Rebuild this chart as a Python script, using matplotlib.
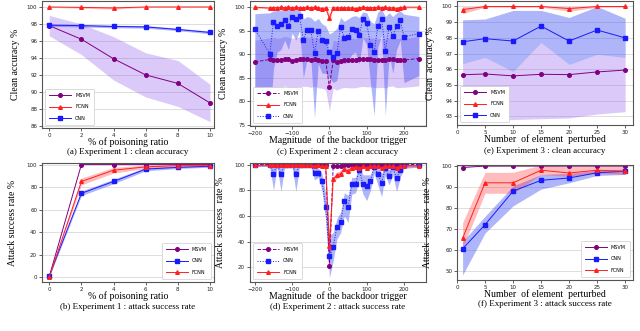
import matplotlib
matplotlib.use('Agg')
import matplotlib.pyplot as plt

# ---- data -------------------------------------------------------------
# Experiment 1 : % of poisoning ratio
ratio = [0, 2, 4, 6, 8, 10]
e1_msvm_acc = [97.8, 96.2, 93.9, 92.0, 91.0, 88.7]
e1_msvm_acc_hi = [99.0, 98.0, 96.5, 94.6, 93.7, 90.9]
e1_msvm_acc_lo = [96.6, 94.4, 91.4, 89.4, 88.3, 86.5]
e1_fcnn_acc = [100.0, 99.95, 99.88, 100.0, 100.0, 100.0]
e1_fcnn_acc_hi = [100.0, 100.0, 100.0, 100.0, 100.0, 100.0]
e1_fcnn_acc_lo = [99.95, 99.85, 99.75, 99.95, 99.95, 99.95]
e1_cnn_acc = [97.85, 97.8, 97.7, 97.65, 97.35, 97.0]
e1_cnn_acc_hi = [98.0, 97.95, 97.85, 97.8, 97.5, 97.15]
e1_cnn_acc_lo = [97.7, 97.65, 97.55, 97.5, 97.2, 96.85]

e1_msvm_asr = [0.5, 100, 100, 100, 100, 100]
e1_cnn_asr = [1.0, 74.5, 85.0, 96.0, 97.5, 98.5]
e1_cnn_asr_hi = [1.5, 76.5, 87.0, 97.5, 98.5, 99.3]
e1_cnn_asr_lo = [0.5, 72.5, 83.0, 94.5, 96.5, 97.7]
e1_fcnn_asr = [0.0, 85.0, 95.0, 98.0, 99.0, 99.0]
e1_fcnn_asr_hi = [0.5, 88.0, 97.5, 99.5, 100.0, 100.0]
e1_fcnn_asr_lo = [0.0, 82.0, 92.5, 96.5, 98.0, 98.0]

# Experiment 2 : magnitude of the backdoor trigger
magnitude = [-200, -160, -150, -140, -130, -120, -110, -100, -90, -80,
             -70, -60, -50, -40, -30, -20, -10, 0, 10, 20,
             30, 40, 50, 60, 70, 80, 90, 100, 110, 120,
             130, 140, 150, 160, 170, 180, 190, 200, 240]

e2_cnn_acc = [95.4, 90.1, 96.9, 96.1, 96.4, 97.3, 96.1, 98.0, 97.4, 98.1,
              93.1, 95.1, 95.1, 90.2, 94.9, 93.0, 92.8, 90.4, 89.4, 90.2,
              95.8, 93.5, 93.7, 95.4, 95.2, 94.1, 97.5, 96.6, 92.0, 90.4,
              96.1, 97.5, 90.8, 95.8, 93.9, 96.0, 97.2, 93.7, 94.4]
e2_cnn_acc_hi = [98.6, 98.8, 99.2, 99.3, 99.4, 99.5, 99.6, 99.7, 99.6, 99.5,
                 97.5, 98.0, 97.8, 97.0, 97.6, 96.5, 96.0, 94.3, 94.8, 95.5,
                 97.8, 97.0, 97.5, 98.0, 98.2, 97.8, 99.0, 98.8, 97.0, 96.5,
                 99.0, 99.5, 98.0, 98.8, 98.0, 98.8, 99.2, 98.5, 98.0]
e2_cnn_acc_lo = [82.0, 76.0, 87.0, 90.5, 91.0, 93.0, 91.0, 94.5, 93.0, 95.0,
                 85.0, 89.0, 89.5, 76.5, 88.0, 86.0, 86.0, 85.0, 84.0, 84.5,
                 89.5, 88.0, 88.5, 90.0, 90.5, 88.0, 93.5, 92.0, 84.0, 77.0,
                 91.5, 94.0, 77.0, 90.0, 86.0, 91.0, 93.0, 84.0, 85.5]
e2_msvm_acc = [88.4, 88.9, 88.8, 88.7, 88.7, 89.1, 88.9, 88.6, 88.8, 89.0,
               89.0, 89.0, 88.8, 89.0, 88.7, 88.6, 88.6, 83.0, 88.7, 88.3,
               88.6, 88.8, 88.7, 88.7, 88.7, 88.9, 89.0, 88.9, 88.9, 88.8,
               88.7, 88.8, 88.7, 89.0, 89.1, 88.7, 88.8, 88.8, 89.1]
e2_msvm_acc_hi = [93.0, 93.5, 93.6, 93.4, 93.5, 93.8, 93.6, 93.4, 93.5, 93.7,
                  93.6, 93.7, 93.5, 93.6, 93.4, 93.3, 93.0, 89.0, 93.0, 92.8,
                  93.2, 93.4, 93.3, 93.4, 93.3, 93.5, 93.6, 93.5, 93.5, 93.4,
                  93.3, 93.4, 93.3, 93.6, 93.7, 93.3, 93.4, 93.4, 93.7]
e2_msvm_acc_lo = [82.8, 83.2, 83.0, 82.9, 82.9, 83.3, 83.1, 82.8, 83.0, 83.2,
                  83.2, 83.2, 83.0, 83.2, 82.9, 82.8, 82.5, 78.0, 82.8, 82.4,
                  82.8, 83.0, 82.9, 82.9, 82.9, 83.1, 83.2, 83.1, 83.1, 83.0,
                  82.9, 83.0, 82.9, 83.2, 83.3, 82.9, 83.0, 83.0, 83.3]
e2_fcnn_acc = [100.0, 99.8, 99.9, 99.9, 100.0, 99.9, 100.0, 99.9, 100.0, 99.9,
               99.9, 100.0, 99.9, 100.0, 99.9, 99.7, 99.8, 97.7, 99.9, 99.8,
               99.9, 99.8, 99.9, 99.8, 99.7, 99.8, 100.0, 99.9, 99.9, 99.9,
               100.0, 99.9, 100.0, 99.8, 99.9, 99.7, 99.9, 100.0, 100.0]
e2_fcnn_acc_hi = [100.0] * 17 + [98.6] + [100.0] * 21
e2_fcnn_acc_lo = [99.8, 99.6, 99.7, 99.7, 99.8, 99.7, 99.8, 99.7, 99.8, 99.7,
                  99.7, 99.8, 99.7, 99.8, 99.7, 99.4, 99.5, 96.8, 99.7, 99.6,
                  99.7, 99.6, 99.7, 99.6, 99.5, 99.6, 99.8, 99.7, 99.7, 99.7,
                  99.8, 99.7, 99.8, 99.6, 99.7, 99.5, 99.7, 99.8, 99.8]

e2_msvm_asr = [100.0, 100.0, 100.0, 100.0, 100.0, 100.0, 100.0, 100.0, 100.0, 100.0,
               100.0, 100.0, 100.0, 100.0, 100.0, 100.0, 100.0, 21.0, 98.8, 98.8,
               98.8, 99.8, 99.8, 99.8, 100.0, 100.0, 100.0, 100.0, 100.0, 100.0,
               100.0, 100.0, 100.0, 100.0, 100.0, 100.0, 100.0, 100.0, 100.0]
e2_cnn_asr = [100.0, 100.0, 93.0, 100.0, 92.5, 100.0, 100.0, 100.0, 92.5, 100.0,
              100.0, 100.0, 100.0, 93.5, 93.5, 87.5, 67.0, 28.5, 35.5, 51.5,
              55.5, 71.5, 67.0, 84.5, 84.5, 96.0, 84.5, 83.5, 87.0, 98.0,
              92.5, 86.0, 97.5, 91.0, 98.0, 89.5, 96.0, 99.5, 99.5]
e2_cnn_asr_hi = [100.0, 100.0, 100.0, 100.0, 100.0, 100.0, 100.0, 100.0, 100.0, 100.0,
                 100.0, 100.0, 100.0, 97.5, 97.5, 93.0, 77.0, 45.0, 47.0, 58.0,
                 63.0, 78.0, 76.0, 90.0, 90.0, 99.0, 92.0, 92.0, 92.0, 100.0,
                 98.0, 93.0, 100.0, 96.0, 100.0, 95.0, 99.0, 100.0, 100.0]
e2_cnn_asr_lo = [98.5, 98.5, 80.0, 98.5, 79.0, 98.5, 98.5, 98.5, 79.0, 98.5,
                 98.5, 98.5, 98.5, 88.0, 90.0, 80.0, 57.0, 12.0, 25.0, 42.0,
                 47.0, 60.0, 55.0, 77.0, 78.0, 88.0, 77.0, 72.0, 80.0, 93.0,
                 84.0, 75.0, 92.0, 84.0, 92.0, 79.0, 90.0, 97.0, 98.0]
e2_fcnn_asr = [99.5, 99.5, 99.8, 99.5, 99.8, 99.5, 99.8, 99.5, 99.8, 99.5,
               99.8, 99.5, 99.8, 99.0, 99.5, 98.5, 99.0, 37.0, 88.5, 91.5,
               93.0, 96.5, 95.0, 97.5, 98.0, 97.0, 98.5, 97.5, 98.5, 99.0,
               98.5, 97.5, 99.0, 98.5, 99.0, 97.5, 99.0, 99.0, 99.0]
e2_fcnn_asr_hi = [100.0, 100.0, 100.0, 100.0, 100.0, 100.0, 100.0, 100.0, 100.0, 100.0,
                  100.0, 100.0, 100.0, 100.0, 100.0, 99.8, 100.0, 44.0, 91.0, 94.0,
                  95.5, 98.5, 97.5, 99.5, 99.8, 99.0, 100.0, 99.5, 100.0, 100.0,
                  100.0, 99.5, 100.0, 100.0, 100.0, 99.5, 100.0, 100.0, 100.0]
e2_fcnn_asr_lo = [98.5, 98.5, 99.0, 98.5, 99.0, 98.5, 99.0, 98.5, 99.0, 98.5,
                  99.0, 98.5, 99.0, 97.5, 98.5, 97.0, 97.5, 30.0, 86.0, 89.0,
                  90.5, 94.5, 92.5, 95.5, 96.0, 95.0, 97.0, 95.5, 97.0, 98.0,
                  97.0, 95.5, 98.0, 97.0, 98.0, 95.5, 98.0, 98.0, 98.0]

# Experiment 3 : number of element perturbed
n_elem = [1, 5, 10, 15, 20, 25, 30]
e3_msvm_acc = [95.65, 95.7, 95.58, 95.68, 95.66, 95.83, 95.95]
e3_msvm_acc_hi = [96.35, 96.75, 95.85, 97.7, 96.3, 96.95, 96.75]
e3_msvm_acc_lo = [92.6, 92.75, 92.8, 92.85, 92.9, 93.15, 93.3]
e3_fcnn_acc = [99.8, 100.0, 100.0, 100.0, 99.87, 100.0, 100.0]
e3_fcnn_acc_hi = [100.0, 100.0, 100.0, 100.0, 100.0, 100.0, 100.0]
e3_fcnn_acc_lo = [99.55, 99.95, 99.95, 99.95, 99.7, 99.95, 99.95]
e3_cnn_acc = [97.75, 97.95, 97.8, 98.75, 97.8, 98.5, 98.0]
e3_cnn_acc_hi = [99.15, 99.2, 99.75, 99.75, 99.3, 100.0, 99.25]
e3_cnn_acc_lo = [96.35, 96.75, 95.85, 97.7, 96.3, 96.95, 96.75]

e3_msvm_asr = [99.3, 100.0, 100.0, 100.0, 100.0, 100.0, 100.0]
e3_cnn_asr = [60.5, 72.0, 88.0, 93.2, 94.3, 96.8, 97.5]
e3_cnn_asr_hi = [64.0, 76.0, 90.5, 96.0, 96.5, 98.0, 98.5]
e3_cnn_asr_lo = [48.0, 68.0, 81.0, 89.0, 92.0, 95.5, 96.0]
e3_fcnn_asr = [65.5, 92.0, 92.0, 98.0, 96.7, 98.0, 97.5]
e3_fcnn_asr_hi = [73.0, 97.0, 97.0, 100.5, 100.0, 100.0, 100.0]
e3_fcnn_asr_lo = [61.0, 87.0, 87.0, 96.0, 95.0, 96.5, 96.0]

captions = ["(a) Experiment 1 : clean accuracy", "(b) Experiment 1 : attack success rate",
            "(c) Experiment 2 : clean accuracy", "(d) Experiment 2 : attack success rate",
            "(e) Experiment 3 : clean accuracy", "(f) Experiment 3 : attack success rate"]

# ---- style ------------------------------------------------------------
PURPLE = '#800080'
RED = '#ff2020'
BLUE = '#1a1aff'
BAND = {PURPLE: ('#9966ee', 0.35), RED: ('#ff4040', 0.35), BLUE: ('#4050f0', 0.42)}
SERIF = 'Liberation Serif'

plt.rcParams['font.family'] = 'DejaVu Sans'

fig = plt.figure(figsize=(6.4, 3.31), dpi=100)
W, H = 640.0, 331.0


def ax_at(l, t, r, b):
    ax = fig.add_axes([l / W, 1 - b / H, (r - l) / W, (b - t) / H])
    ax.set_facecolor('white')
    for s in ax.spines.values():
        s.set_color('#555555')
        s.set_linewidth(0.8)
    ax.grid(axis='y', color='#dddddd', linewidth=0.7)
    ax.set_axisbelow(True)
    ax.tick_params(labelsize=4, length=2, width=0.5, pad=1.5, colors='#222222')
    return ax


def series(ax, x, y, lo, hi, color, marker, label, ls='-'):
    if lo is not None:
        c, a = BAND[color]
        ax.fill_between(x, lo, hi, color=c, alpha=a, linewidth=0)
    ax.plot(x, y, color=color, marker=marker, ls=ls, lw=0.7, ms=2.6,
            label=label)


def legend(ax, loc):
    lg = ax.legend(loc=loc, fontsize=3.5, handlelength=4.5, labelspacing=1.3,
                   borderpad=0.9, framealpha=1, edgecolor='#cccccc',
                   fancybox=True, borderaxespad=0.6)
    lg.get_frame().set_linewidth(0.5)


def labels(ax, xlabel, ylabel, ypos_px):
    ax.set_xlabel(xlabel, family=SERIF, fontsize=7, labelpad=-0.5)
    ax.set_ylabel(ylabel, family=SERIF, fontsize=7, labelpad=ypos_px)


# (a)
ax = ax_at(42, 1, 214, 128)
series(ax, ratio, e1_msvm_acc, e1_msvm_acc_lo, e1_msvm_acc_hi, PURPLE, 'o', 'MSVM')
series(ax, ratio, e1_fcnn_acc, e1_fcnn_acc_lo, e1_fcnn_acc_hi, RED, '^', 'FCNN')
series(ax, ratio, e1_cnn_acc, e1_cnn_acc_lo, e1_cnn_acc_hi, BLUE, 's', 'CNN')
ax.set_xlim(-0.45, 10.25)
ax.set_ylim(85.75, 100.7)
ax.set_xticks(ratio)
ax.set_yticks([86, 88, 90, 92, 94, 96, 98, 100])
labels(ax, '% of poisoning ratio', 'Clean accuracy %', 5)
legend(ax, 'lower left')

# (b)
ax = ax_at(42, 163, 214, 282)
series(ax, ratio, e1_msvm_asr, None, None, PURPLE, 'o', 'MSVM')
series(ax, ratio, e1_cnn_asr, e1_cnn_asr_lo, e1_cnn_asr_hi, BLUE, 's', 'CNN')
series(ax, ratio, e1_fcnn_asr, e1_fcnn_asr_lo, e1_fcnn_asr_hi, RED, '^', 'FCNN')
ax.set_xlim(-0.45, 10.25)
ax.set_ylim(-4.2, 101.4)
ax.set_xticks(ratio)
ax.set_yticks([0, 20, 40, 60, 80, 100])
labels(ax, '% of poisoning ratio', 'Attack success rate %', 7)
legend(ax, 'lower right')

# (c)
ax = ax_at(250, 1, 426, 126)
series(ax, magnitude, e2_msvm_acc, e2_msvm_acc_lo, e2_msvm_acc_hi, PURPLE, 'o', 'MSVM', ls='--')
series(ax, magnitude, e2_fcnn_acc, e2_fcnn_acc_lo, e2_fcnn_acc_hi, RED, '^', 'FCNN')
series(ax, magnitude, e2_cnn_acc, e2_cnn_acc_lo, e2_cnn_acc_hi, BLUE, 's', 'CNN', ls=':')
ax.set_xlim(-213, 259)
ax.set_ylim(74.8, 101.3)
ax.set_xticks([-200, -100, 0, 100, 200])
ax.set_yticks([75, 80, 85, 90, 95, 100])
labels(ax, 'Magnitude  of the backdoor trigger', 'Clean accuracy %', 5)
legend(ax, 'lower left')

# (d)
ax = ax_at(250, 163, 426, 282)
series(ax, magnitude, e2_msvm_asr, None, None, PURPLE, 'o', 'MSVM', ls='--')
series(ax, magnitude, e2_cnn_asr, e2_cnn_asr_lo, e2_cnn_asr_hi, BLUE, 's', 'CNN', ls=':')
series(ax, magnitude, e2_fcnn_asr, e2_fcnn_asr_lo, e2_fcnn_asr_hi, RED, '^', 'FCNN')
ax.set_xlim(-213, 259)
ax.set_ylim(8.6, 101.2)
ax.set_xticks([-200, -100, 0, 100, 200])
ax.set_yticks([20, 40, 60, 80, 100])
labels(ax, 'Magnitude  of the backdoor trigger', 'Attack  success  rate %', 7)
legend(ax, 'lower left')

# (e)
ax = ax_at(457, 1, 633, 125)
series(ax, n_elem, e3_msvm_acc, e3_msvm_acc_lo, e3_msvm_acc_hi, PURPLE, 'o', 'MSVM')
series(ax, n_elem, e3_fcnn_acc, e3_fcnn_acc_lo, e3_fcnn_acc_hi, RED, '^', 'FCNN')
series(ax, n_elem, e3_cnn_acc, e3_cnn_acc_lo, e3_cnn_acc_hi, BLUE, 's', 'CNN')
ax.set_xlim(0, 31.4)
ax.set_ylim(92.45, 100.35)
ax.set_xticks([0, 5, 10, 15, 20, 25, 30])
ax.set_yticks([93, 94, 95, 96, 97, 98, 99, 100])
labels(ax, 'Number  of element  perturbed', 'Clean  accuracy %', 5)
legend(ax, 'lower left')

# (f)
ax = ax_at(457, 165, 633, 280)
series(ax, n_elem, e3_msvm_asr, None, None, PURPLE, 'o', 'MSVM')
series(ax, n_elem, e3_cnn_asr, e3_cnn_asr_lo, e3_cnn_asr_hi, BLUE, 's', 'CNN')
series(ax, n_elem, e3_fcnn_asr, e3_fcnn_asr_lo, e3_fcnn_asr_hi, RED, '^', 'FCNN')
ax.set_xlim(0, 31.4)
ax.set_ylim(45.6, 100.5)
ax.set_xticks([0, 5, 10, 15, 20, 25, 30])
ax.set_yticks([50, 60, 70, 80, 90, 100])
labels(ax, 'Number  of element  perturbed', 'Attack  success  rate %', 7)
legend(ax, 'lower right')

# sub-captions
for (cx, cy), txt in zip([(128, 152), (128, 307), (338, 152), (338, 307), (545, 151), (545, 304)], captions):
    fig.text(cx / W, 1 - cy / H, txt, ha='center', va='center', family=SERIF, fontsize=6.5)

fig.savefig('out.png', dpi=100)
